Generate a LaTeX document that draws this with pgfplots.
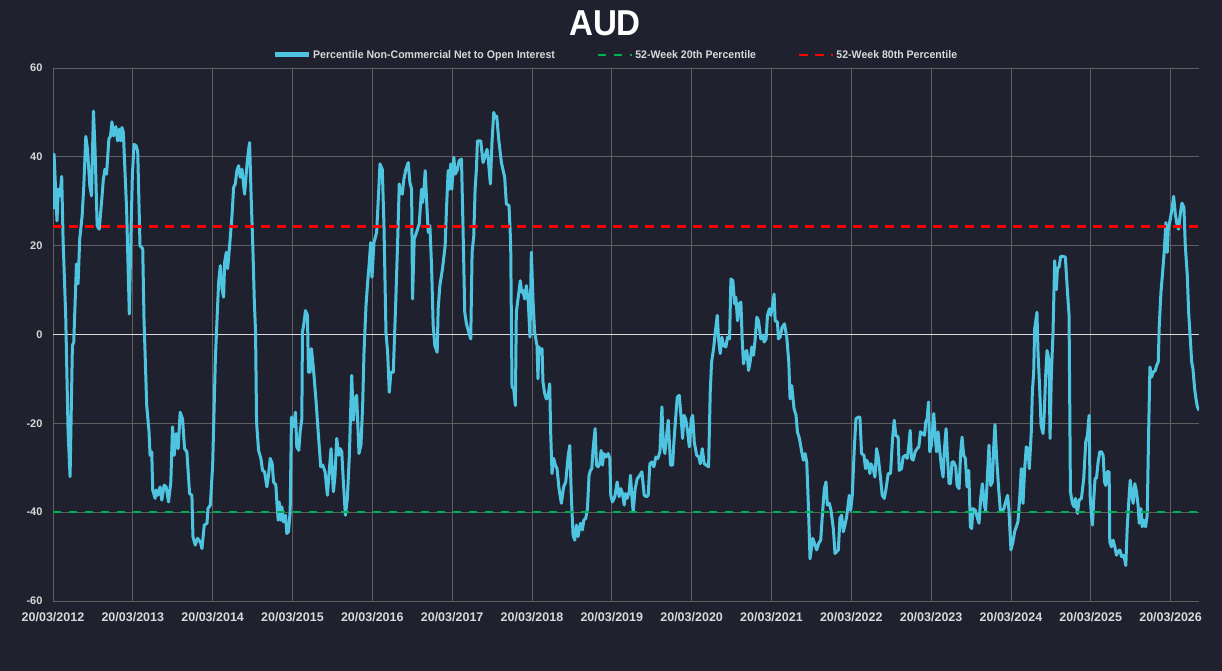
\documentclass[border=0pt]{standalone}
\usepackage{fontspec}
\setmainfont{Liberation Sans}
\newfontfamily\titlefont[FakeStretch=0.92]{Liberation Sans}
\newfontfamily\legfont[FakeStretch=0.96]{Liberation Sans}
\usepackage{pgfplots}
\pgfplotsset{compat=1.18}
\definecolor{bg}{RGB}{31,34,46}
\definecolor{gridc}{RGB}{95,95,95}
\definecolor{zeroc}{RGB}{220,220,220}
\definecolor{tickc}{RGB}{217,217,217}
\definecolor{aud}{RGB}{78,196,224}
\definecolor{pgreen}{RGB}{0,176,80}
\definecolor{pred}{RGB}{255,0,0}
\begin{document}
\begin{tikzpicture}
\fill[bg] (0pt,0pt) rectangle (1222pt,671pt);
\begin{axis}[
  at={(53pt,70pt)}, anchor=south west,
  scale only axis, width=1146pt, height=533pt,
  xmin=0, xmax=14.356, ymin=-60, ymax=60,
  axis line style={draw=none},
  major tick length=0pt,
  xtick={0,1,2,3,4,5,6,7,8,9,10,11,12,13,14},
  xticklabels={20/03/2012,20/03/2013,20/03/2014,20/03/2015,20/03/2016,20/03/2017,20/03/2018,20/03/2019,20/03/2020,20/03/2021,20/03/2022,20/03/2023,20/03/2024,20/03/2025,20/03/2026},
  ytick={-60,-40,-20,20,40,60},
  extra y ticks={0},
  extra y tick style={major grid style={color=zeroc, line width=1.2pt}},
  grid=major,
  major grid style={color=gridc, line width=0.8pt},
  /pgf/number format/assume math mode=true,
  yticklabel style={font=\bfseries\fontsize{11}{13}\selectfont, text=tickc, anchor=east, xshift=-7pt},
  xticklabel style={font=\bfseries\fontsize{12.5}{14}\selectfont, text=tickc, anchor=north, yshift=-8pt},
  legend columns=3,
  legend image code/.code={\draw[#1] (0pt,0pt) -- (34pt,0pt);},
  legend style={at={(0.491,1.0244)}, anchor=center, draw=none, fill=none,
    text=tickc, font={\legfont\bfseries\fontsize{11}{13}\selectfont},
    /tikz/every even column/.append style={column sep=40pt}},
  legend cell align=left,
]
\addplot[color=aud, line width=3pt, line join=round,
  legend image code/.code={\draw[color=aud, line width=5pt] (0pt,0pt) -- (34pt,0pt);}] coordinates {
(0,28.2) (0.013,40.6) (0.05,25.6) (0.067,32.7) (0.088,31.2) (0.109,35.6) (0.126,21.5) (0.159,4.3) (0.189,-21.9) (0.214,-32) (0.243,-2.5) (0.26,-1.7) (0.294,15.9) (0.314,11.4) (0.335,21.5) (0.365,26.7) (0.386,33.5) (0.411,44.6) (0.432,41.7) (0.461,33.5) (0.482,31.2) (0.507,50.3) (0.528,41) (0.553,24.5) (0.579,23.7) (0.608,29.7) (0.629,34.6) (0.65,37.2) (0.671,36.1) (0.7,44) (0.721,44.7) (0.738,47.9) (0.759,44.7) (0.788,46.8) (0.809,43.6) (0.83,46.2) (0.847,43.6) (0.864,46.6) (0.881,45.5) (0.922,28.2) (0.956,4.6) (0.977,23) (0.994,35.7) (1.015,42.8) (1.04,42.5) (1.061,41.3) (1.09,20) (1.124,19.3) (1.14,3.5) (1.174,-16) (1.203,-21.9) (1.216,-27.2) (1.237,-26.4) (1.249,-35) (1.279,-36.9) (1.291,-35) (1.312,-36.2) (1.342,-34.3) (1.363,-37.3) (1.392,-33.9) (1.417,-34.3) (1.447,-37.7) (1.476,-33.2) (1.497,-20.8) (1.518,-27.2) (1.543,-22.3) (1.568,-25.7) (1.593,-17.5) (1.623,-19) (1.648,-25.7) (1.677,-26.4) (1.711,-35.8) (1.74,-36.2) (1.753,-45.5) (1.782,-47.4) (1.811,-45.9) (1.845,-46.7) (1.866,-48.2) (1.895,-42.9) (1.929,-42.5) (1.941,-39.2) (1.971,-38.4) (2.0,-29.4) (2.034,-5.5) (2.062,6.5) (2.075,11.8) (2.096,15.5)
(2.117,10.3) (2.1375,8.4) (2.15,16.3) (2.171,18.5) (2.1875,14.8) (2.2125,20) (2.242,26.7) (2.2625,33.1) (2.283,33.9) (2.304,36.9) (2.325,38) (2.346,35.4) (2.367,37.2) (2.4,31.6) (2.429,38) (2.446,41) (2.4625,43.2) (2.483,30.5) (2.504,19.3) (2.521,8) (2.5375,0.5) (2.55,-19.7) (2.575,-26.1) (2.604,-27.9) (2.625,-30.6) (2.65,-30.9) (2.679,-34.3) (2.7,-31.7) (2.721,-27.9) (2.746,-29.1) (2.7625,-33.2) (2.792,-33.9) (2.804,-37.7) (2.821,-41.8) (2.833,-37.7) (2.854,-41.8) (2.867,-38.8) (2.8875,-42.2) (2.9125,-40.7) (2.929,-44.8) (2.95,-44.4) (2.971,-39.9) (2.9875,-18.6) (3.0125,-20.8) (3.0375,-17.5) (3.054,-25.3) (3.079,-26.1) (3.096,-21.9) (3.117,-19) (3.125,0.5) (3.146,2.8) (3.1625,5.4) (3.1875,4.3) (3.2,-8.5) (3.221,-8.5) (3.2375,-3.2) (3.2625,-7.7) (3.296,-15.2) (3.325,-22.7) (3.354,-29.8) (3.379,-29.4) (3.408,-30.9) (3.4375,-36.2) (3.4625,-30.2) (3.483,-25.7) (3.5125,-35.4) (3.533,-31.7) (3.554,-23.4) (3.579,-27.2) (3.596,-25.7) (3.617,-26.4) (3.6375,-33.2) (3.6625,-40.7) (3.6875,-36.9) (3.7125,-27.2) (3.742,-9.2) (3.7625,-19.3) (3.783,-14.5) (3.804,-13.7) (3.833,-26.8) (3.858,-24.9) (3.879,-16) (3.896,-4) (3.921,6.5) (3.942,11.8) (3.9625,16.3) (3.979,20.7) (3.996,12.9) (4.021,20.7) (4.054,23) (4.075,30.5) (4.096,38.4)
(4.125,37.2) (4.146,24.5) (4.171,0.5) (4.192,-4) (4.2125,-13) (4.233,-8.5) (4.2625,-8.5) (4.292,6.5) (4.317,20.7) (4.3375,33.9) (4.354,31.9) (4.375,31.6) (4.396,35) (4.421,37.2) (4.45,38.7) (4.471,34.2) (4.492,32.7) (4.504,8) (4.525,21.5) (4.554,23) (4.5875,24.9) (4.617,32.7) (4.629,29.7) (4.65,33.5) (4.6625,36.9) (4.679,30.5) (4.7,23) (4.721,24.5) (4.742,15.5) (4.7625,2) (4.783,-2.5) (4.8125,-4) (4.825,5.8) (4.846,11) (4.879,14.8) (4.9125,20) (4.929,28.2) (4.95,36.9) (4.9625,32.7) (4.983,38.4) (4.996,32.7) (5.021,39.9) (5.0375,36.1) (5.0625,36.9) (5.0875,39.1) (5.117,39.5) (5.1375,23) (5.158,5) (5.179,2.4) (5.208,0.5) (5.233,-1) (5.25,18.5) (5.271,22.2) (5.2875,32.7) (5.304,37.2) (5.317,43.6) (5.358,43.6) (5.3875,38.7) (5.408,39.9) (5.4375,41.7) (5.454,39.1) (5.479,33.9) (5.5,43.6) (5.521,50) (5.542,48.8) (5.558,49.2) (5.583,44) (5.617,38.7) (5.658,35.4) (5.679,29.4) (5.7125,29) (5.733,20.7) (5.75,-11.8) (5.771,-12.2) (5.792,-16) (5.804,5) (5.825,8) (5.854,12.1) (5.871,9.5) (5.8875,9.9) (5.908,8) (5.929,11) (5.954,7.3) (5.975,-0.6) (5.992,18.5)
(6.0125,8) (6.033,0.5) (6.063,-2.5) (6.075,-10) (6.088,-2.8) (6.105,-3.6) (6.126,-3.2) (6.138,-10.7) (6.159,-13.3) (6.18,-14.5) (6.201,-14.1) (6.222,-11.1) (6.234,-21.9) (6.251,-31.3) (6.272,-27.9) (6.293,-29.4) (6.314,-30.2) (6.339,-34.7) (6.368,-38) (6.397,-34.3) (6.423,-33.2) (6.452,-27.6) (6.473,-25) (6.494,-36.9) (6.515,-45.2) (6.536,-46.3) (6.556,-42.9) (6.577,-45.5) (6.607,-42.5) (6.632,-44) (6.649,-41.8) (6.674,-41.4) (6.695,-39.2) (6.715,-31.7) (6.732,-30.6) (6.749,-30.2) (6.766,-25.7) (6.791,-21.2) (6.808,-29.4) (6.828,-29.8) (6.849,-29.1) (6.866,-26.1) (6.883,-29.4) (6.9,-26.8) (6.925,-27.6) (6.954,-26.8) (6.975,-27.9) (6.987,-36.2) (7.008,-37.7) (7.038,-36.5) (7.067,-33.2) (7.092,-36.5) (7.113,-34.7) (7.134,-35.8) (7.155,-38.4) (7.172,-35.8) (7.192,-36.9) (7.218,-35.4) (7.234,-31.7) (7.251,-36.5) (7.268,-39.9) (7.293,-34.7) (7.318,-32.5) (7.351,-31.7) (7.377,-30.9) (7.406,-36.2) (7.435,-36.5) (7.456,-36.2) (7.477,-29.1) (7.502,-28.7) (7.527,-29.8) (7.552,-27.6) (7.577,-27.9) (7.603,-26.4) (7.628,-16.3) (7.644,-25) (7.665,-26.8) (7.686,-22.7) (7.707,-19.3) (7.736,-29.4) (7.762,-29.4) (7.778,-24.2) (7.799,-19) (7.82,-14.1) (7.845,-13.7) (7.866,-18.2) (7.887,-23.4) (7.904,-18.2) (7.925,-19) (7.95,-21.9) (7.971,-25.3) (7.996,-19) (8.013,-18.2) (8.033,-24.2) (8.063,-27.2) (8.092,-27.6)
(8.108,-29.1) (8.133,-25.7) (8.158,-29.1) (8.183,-29.4) (8.2125,-29.8) (8.233,-13) (8.25,-6.2) (8.275,-3.2) (8.296,0.5) (8.321,4.3) (8.3375,-1) (8.358,-4.3) (8.379,-0.6) (8.4,-2.5) (8.429,-2.8) (8.45,-0.6) (8.475,-1) (8.492,12.5) (8.517,12.1) (8.5375,6.9) (8.554,8.4) (8.575,3.1) (8.596,6.9) (8.617,7.3) (8.633,-1) (8.65,-6.6) (8.675,-4) (8.692,-3.6) (8.7125,-8.1) (8.733,-6.2) (8.754,-2.8) (8.775,-4.7) (8.796,-1) (8.817,3.9) (8.8375,3.1) (8.867,-1) (8.892,-0.2) (8.908,-1.7) (8.933,-1) (8.95,4.3) (8.975,5.8) (8.992,4.3) (9.0125,6.5) (9.033,9.1) (9.046,3.1) (9.075,2.8) (9.0875,-1) (9.108,-0.6) (9.133,1.6) (9.1625,2.4) (9.1917,-0.6) (9.217,-6.2) (9.233,-14.5) (9.254,-11.5) (9.283,-16.7) (9.308,-18.2) (9.325,-21.9) (9.35,-23.4) (9.379,-26.4) (9.4,-28.3) (9.421,-26.8) (9.442,-28.7) (9.4625,-38.4) (9.483,-50.5) (9.517,-45.9) (9.546,-47.4) (9.567,-48.5) (9.592,-47) (9.617,-46.3) (9.6375,-40.7) (9.6625,-34.7) (9.683,-33.2) (9.7,-38.4) (9.725,-38) (9.746,-39.6) (9.775,-43.7) (9.796,-49.3) (9.817,-48.9) (9.8375,-48.5) (9.858,-41.4) (9.879,-40.7) (9.9,-44.4) (9.921,-42.9) (9.942,-41) (9.975,-36.2) (9.992,-39.6) (10.0125,-36.2) (10.0375,-25.7) (10.058,-19) (10.0875,-18.6) (10.108,-18.6)
(10.129,-26.8) (10.158,-27.2) (10.179,-30.2) (10.192,-28.3) (10.2125,-29.1) (10.233,-31.3) (10.246,-29.1) (10.275,-30.2) (10.296,-32.1) (10.317,-25.7) (10.3375,-27.6) (10.367,-32.4) (10.3875,-36.2) (10.4125,-36.9) (10.433,-35) (10.4625,-31.3) (10.492,-31.3) (10.517,-23.4) (10.5375,-19.3) (10.558,-22.7) (10.5875,-23.1) (10.6,-30.6) (10.629,-30.2) (10.65,-27.6) (10.675,-27.2) (10.7,-27.9) (10.717,-25.7) (10.7375,-21.6) (10.754,-27.9) (10.775,-28.3) (10.8,-26.4) (10.825,-25.7) (10.846,-25.3) (10.867,-21.9) (10.892,-22.3) (10.917,-22.7) (10.933,-19.7) (10.95,-19) (10.967,-15.2) (10.983,-26.4) (11.004,-24.9) (11.033,-17.8) (11.05,-22.3) (11.067,-26.4) (11.0875,-21.9) (11.108,-26.1) (11.129,-29.8) (11.15,-32.1) (11.167,-25.7) (11.1875,-21.2) (11.204,-27.2) (11.225,-33.6) (11.242,-33.6) (11.2625,-28.7) (11.283,-28.7) (11.308,-29.8) (11.325,-34) (11.35,-34.7) (11.371,-26.4) (11.3875,-23.1) (11.408,-27.2) (11.429,-27.9) (11.45,-34.3) (11.471,-30.6) (11.492,-43.3) (11.508,-43.7) (11.525,-39.2) (11.554,-39.6) (11.575,-41) (11.6,-42.5) (11.621,-36.9) (11.642,-33.6) (11.667,-38.4) (11.683,-39.6) (11.704,-32.4) (11.725,-24.9) (11.746,-34) (11.767,-33.2) (11.783,-25.7) (11.8,-20.3) (11.821,-27.9) (11.846,-34.7) (11.867,-39.6) (11.892,-39.6) (11.9125,-39.2) (11.933,-37.7) (11.958,-36.2) (11.975,-39.6) (12.0,-48.5) (12.025,-46.7) (12.046,-44.4) (12.067,-43.3) (12.0875,-42.2)
(12.109,-36.9) (12.13,-30.2) (12.151,-38) (12.172,-30.2) (12.192,-25.3) (12.213,-25.7) (12.23,-30.2) (12.255,-21.9) (12.268,-13) (12.285,-8.5) (12.297,1.3) (12.326,5) (12.339,-4) (12.36,-12.2) (12.377,-20.4) (12.402,-22.3) (12.418,-17.5) (12.435,-9.2) (12.452,-3.6) (12.477,-5.8) (12.49,-23.4) (12.506,-9.2) (12.527,0.5) (12.548,16.6) (12.569,10.1) (12.582,14.8) (12.603,15.2) (12.623,17.6) (12.653,17.6) (12.682,17.4) (12.703,11) (12.728,4.3) (12.745,-35.4) (12.77,-38) (12.791,-38.8) (12.808,-36.9) (12.833,-40.3) (12.854,-37.3) (12.883,-36.9) (12.912,-32.4) (12.937,-24.2) (12.958,-22.7) (12.979,-18.2) (12.992,-36.2) (13.008,-40.7) (13.021,-42.9) (13.038,-36.9) (13.054,-32.4) (13.071,-32.4) (13.092,-28.7) (13.113,-26.4) (13.134,-26.4) (13.155,-27.2) (13.172,-33.2) (13.188,-34) (13.205,-30.9) (13.23,-30.9) (13.238,-46.7) (13.259,-47.8) (13.28,-46.3) (13.301,-47.8) (13.322,-49.7) (13.343,-48.9) (13.364,-48.5) (13.385,-50) (13.406,-49.7) (13.427,-50.8) (13.439,-52) (13.456,-43.7) (13.473,-38.4) (13.494,-32.8) (13.515,-36.2) (13.531,-38) (13.552,-33.6) (13.573,-35.4) (13.594,-38.8) (13.607,-42.5) (13.628,-39.2) (13.644,-43.3) (13.665,-41.8) (13.686,-43.3) (13.707,-40.7) (13.724,-22.7) (13.741,-7.3) (13.762,-9.6) (13.782,-8.5) (13.808,-8.1) (13.824,-7) (13.845,-6.2) (13.858,2) (13.879,9.5) (13.9,14) (13.921,18.9) (13.941,25.2) (13.958,18.5) (13.971,23.7) (13.996,26) (14.017,28.2) (14.038,31.1) (14.059,27.1) (14.079,24.9) (14.1,23.7) (14.121,27.1) (14.142,29.6) (14.167,28.6) (14.184,20) (14.209,13.3) (14.226,5) (14.247,-1) (14.264,-6.2) (14.28,-7.7) (14.301,-12.2) (14.318,-14.5) (14.335,-16.3) (14.356,-17.1)
};
\addlegendentry{Percentile Non-Commercial Net to Open Interest}
\addplot[color=pgreen, line width=2.4pt, dash pattern=on 8pt off 8pt] coordinates {(0,-40) (14.356,-40)};
\addlegendentry{52-Week 20th Percentile}
\addplot[color=pred, line width=2.4pt, dash pattern=on 9pt off 7pt] coordinates {(0,24.3) (14.356,24.3)};
\addlegendentry{52-Week 80th Percentile}
\end{axis}
\node[font={\titlefont\bfseries\fontsize{36}{40}\selectfont}, text=white] at (605pt,648pt) {AUD};
\pgfresetboundingbox
\path[use as bounding box] (0pt,0pt) rectangle (1222pt,671pt);
\end{tikzpicture}
\end{document}
